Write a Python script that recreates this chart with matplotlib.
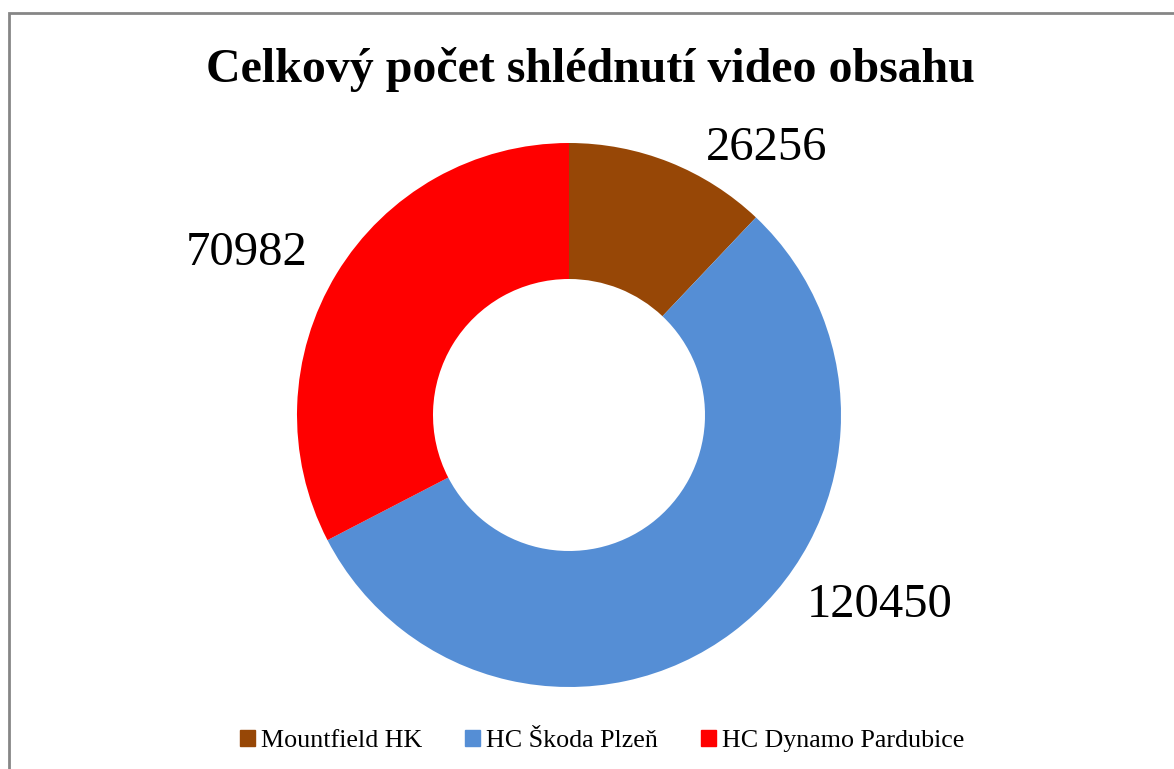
import matplotlib.pyplot as plt
from matplotlib.patches import Rectangle

# data
teams = ['Mountfield HK', 'HC Škoda Plzeň', 'HC Dynamo Pardubice']
views = [26256, 120450, 70982]
colors = ['#974706', '#558ED5', '#FF0000']
# label offsets relative to the centre, in units of the outer radius
label_pos = [(0.728, 0.982), (1.143, -0.699), (-1.184, 0.596)]

W, H = 1174, 769
fig = plt.figure(figsize=(W / 100, H / 100), dpi=100)
ax = fig.add_axes([0, 0, 1, 1])

cx, cy, r = 569, H - 415, 272
ax.pie(views, colors=colors, startangle=90, counterclock=False,
       center=(cx, cy), radius=r, wedgeprops=dict(width=r * 0.5, linewidth=0),
       frame=True)
ax.set_xlim(0, W)
ax.set_ylim(0, H)
ax.set_aspect('equal')
ax.axis('off')

for v, (dx, dy) in zip(views, label_pos):
    ax.text(cx + dx * r, cy + dy * r, str(v), ha='center', va='center',
            fontsize=35, family='Liberation Serif')

# outer chart border
ax.add_patch(Rectangle((9, -20), W, H - 13 + 20, fill=False,
                       edgecolor='#868686', linewidth=2))

fig.text(590 / W, 1 - 70 / H, 'Celkový počet shlédnutí video obsahu',
         ha='center', va='center', fontsize=34.5, fontweight='bold',
         family='Liberation Serif')

handles = [plt.Rectangle((0, 0), 1, 1, color=c) for c in colors]
fig.legend(handles, teams, loc='center', bbox_to_anchor=(602 / W, 1 - 741 / H),
           ncol=3, frameon=False, handlelength=0.58, handleheight=0.58,
           handletextpad=0.23, columnspacing=1.65,
           prop={'family': 'Liberation Serif', 'size': 18.7})

fig.savefig('out.png', dpi=100)
